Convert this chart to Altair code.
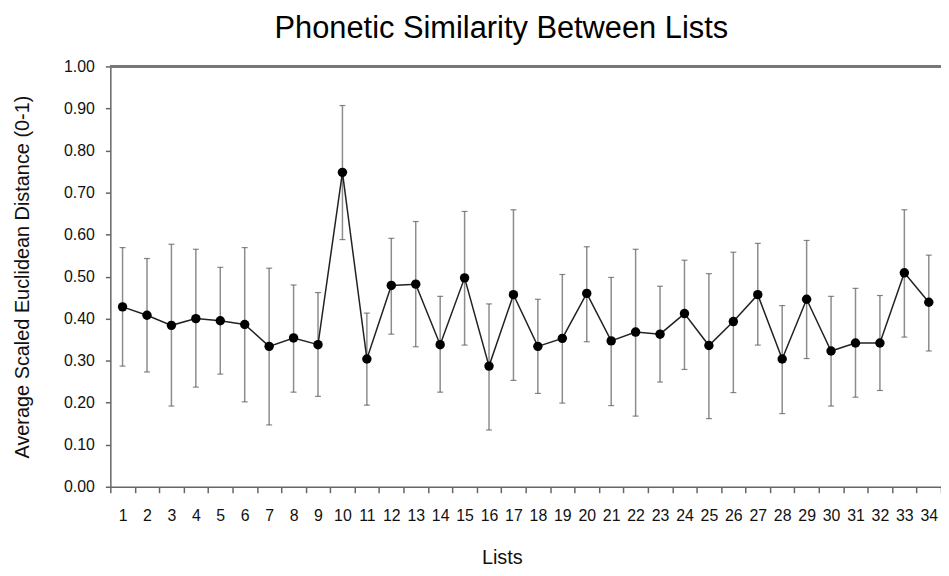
import altair as alt
import pandas as pd

lists = [str(i) for i in range(1, 35)]
means = [0.428, 0.408, 0.384, 0.400, 0.395, 0.386, 0.334, 0.354, 0.338, 0.748,
         0.304, 0.479, 0.482, 0.338, 0.497, 0.287, 0.457, 0.334, 0.353, 0.460,
         0.347, 0.368, 0.363, 0.412, 0.336, 0.393, 0.457, 0.304, 0.446, 0.323,
         0.342, 0.342, 0.509, 0.439]
upper = [0.569, 0.543, 0.577, 0.565, 0.522, 0.569, 0.520, 0.480, 0.462, 0.907,
         0.413, 0.591, 0.631, 0.453, 0.655, 0.435, 0.659, 0.446, 0.505, 0.571,
         0.498, 0.565, 0.477, 0.539, 0.507, 0.558, 0.579, 0.431, 0.586, 0.453,
         0.472, 0.455, 0.659, 0.551]
lower = [0.287, 0.273, 0.192, 0.237, 0.268, 0.202, 0.147, 0.225, 0.215, 0.588,
         0.194, 0.363, 0.333, 0.225, 0.337, 0.135, 0.253, 0.222, 0.199, 0.345,
         0.193, 0.168, 0.249, 0.279, 0.162, 0.224, 0.337, 0.174, 0.305, 0.192,
         0.213, 0.229, 0.356, 0.323]
y_ticks = [0.0, 0.1, 0.2, 0.3, 0.4, 0.5, 0.6, 0.7, 0.8, 0.9, 1.0]

df = pd.DataFrame({"List": lists, "Mean": means, "Upper": upper, "Lower": lower})

FONT = "Liberation Sans"
AX = "#666666"

x_enc = alt.X(
    "List:O", sort=lists, title="Lists",
    scale=alt.Scale(type="band", paddingInner=0, paddingOuter=0),
    axis=alt.Axis(labelAngle=0, tickBand="extent", tickSize=6, labelPadding=15,
                  labelFontSize=16, titleFontSize=20, titleX=394, titleY=77,
                  titleBaseline="alphabetic", titleAlign="center",
                  domainColor=AX, tickColor=AX, domainWidth=1.5, tickWidth=1.5),
)
y_scale = alt.Scale(domain=[0, 1], nice=False, zero=True)
y_axis = alt.Axis(values=y_ticks, format=".2f", grid=False, tickSize=5, labelPadding=11,
                  labelFontSize=16, titleFontSize=20, titleX=-82.5, titleY=211.5,
                  titleBaseline="alphabetic", titleAlign="center",
                  domainColor=AX, tickColor=AX, domainWidth=1.5, tickWidth=1.5)

base = alt.Chart(df)

bars = base.mark_rule(color="#8c8c8c", strokeWidth=1.5).encode(
    x=x_enc,
    y=alt.Y("Lower:Q", scale=y_scale, axis=y_axis,
            title="Average Scaled Euclidean Distance (0-1)"),
    y2="Upper:Q",
)
cap_top = base.mark_tick(color="#555555", size=6, thickness=1.2, orient="horizontal").encode(
    x=x_enc, y=alt.Y("Upper:Q", scale=y_scale))
cap_bot = base.mark_tick(color="#555555", size=6, thickness=1.2, orient="horizontal").encode(
    x=x_enc, y=alt.Y("Lower:Q", scale=y_scale))
line = base.mark_line(color="#222222", strokeWidth=1.5).encode(
    x=x_enc, y=alt.Y("Mean:Q", scale=y_scale))
pts = base.mark_circle(size=90, color="black", opacity=1).encode(
    x=x_enc, y=alt.Y("Mean:Q", scale=y_scale))
top_rule = alt.Chart(df).mark_rule(color="#777777", strokeWidth=1.5).encode(
    y=alt.datum(1.0))

chart = alt.layer(bars, cap_top, cap_bot, line, pts, top_rule).properties(
    width=836, height=423,
    padding={"left": 103, "top": 57, "right": 0, "bottom": 84},
    autosize=alt.AutoSizeParams(type="none"),
    title=alt.TitleParams("Phonetic Similarity Between Lists", fontSize=31, font=FONT,
                          fontWeight="normal", anchor="middle", frame="group",
                          dx=-24.5, offset=14, color="black"),
).configure_view(stroke=None).configure_axis(
    labelFont=FONT, titleFont=FONT, titleFontWeight="normal",
    labelColor="#111111", titleColor="#111111",
)

chart.save("out.html", embed_options={"renderer": "svg", "actions": False})
